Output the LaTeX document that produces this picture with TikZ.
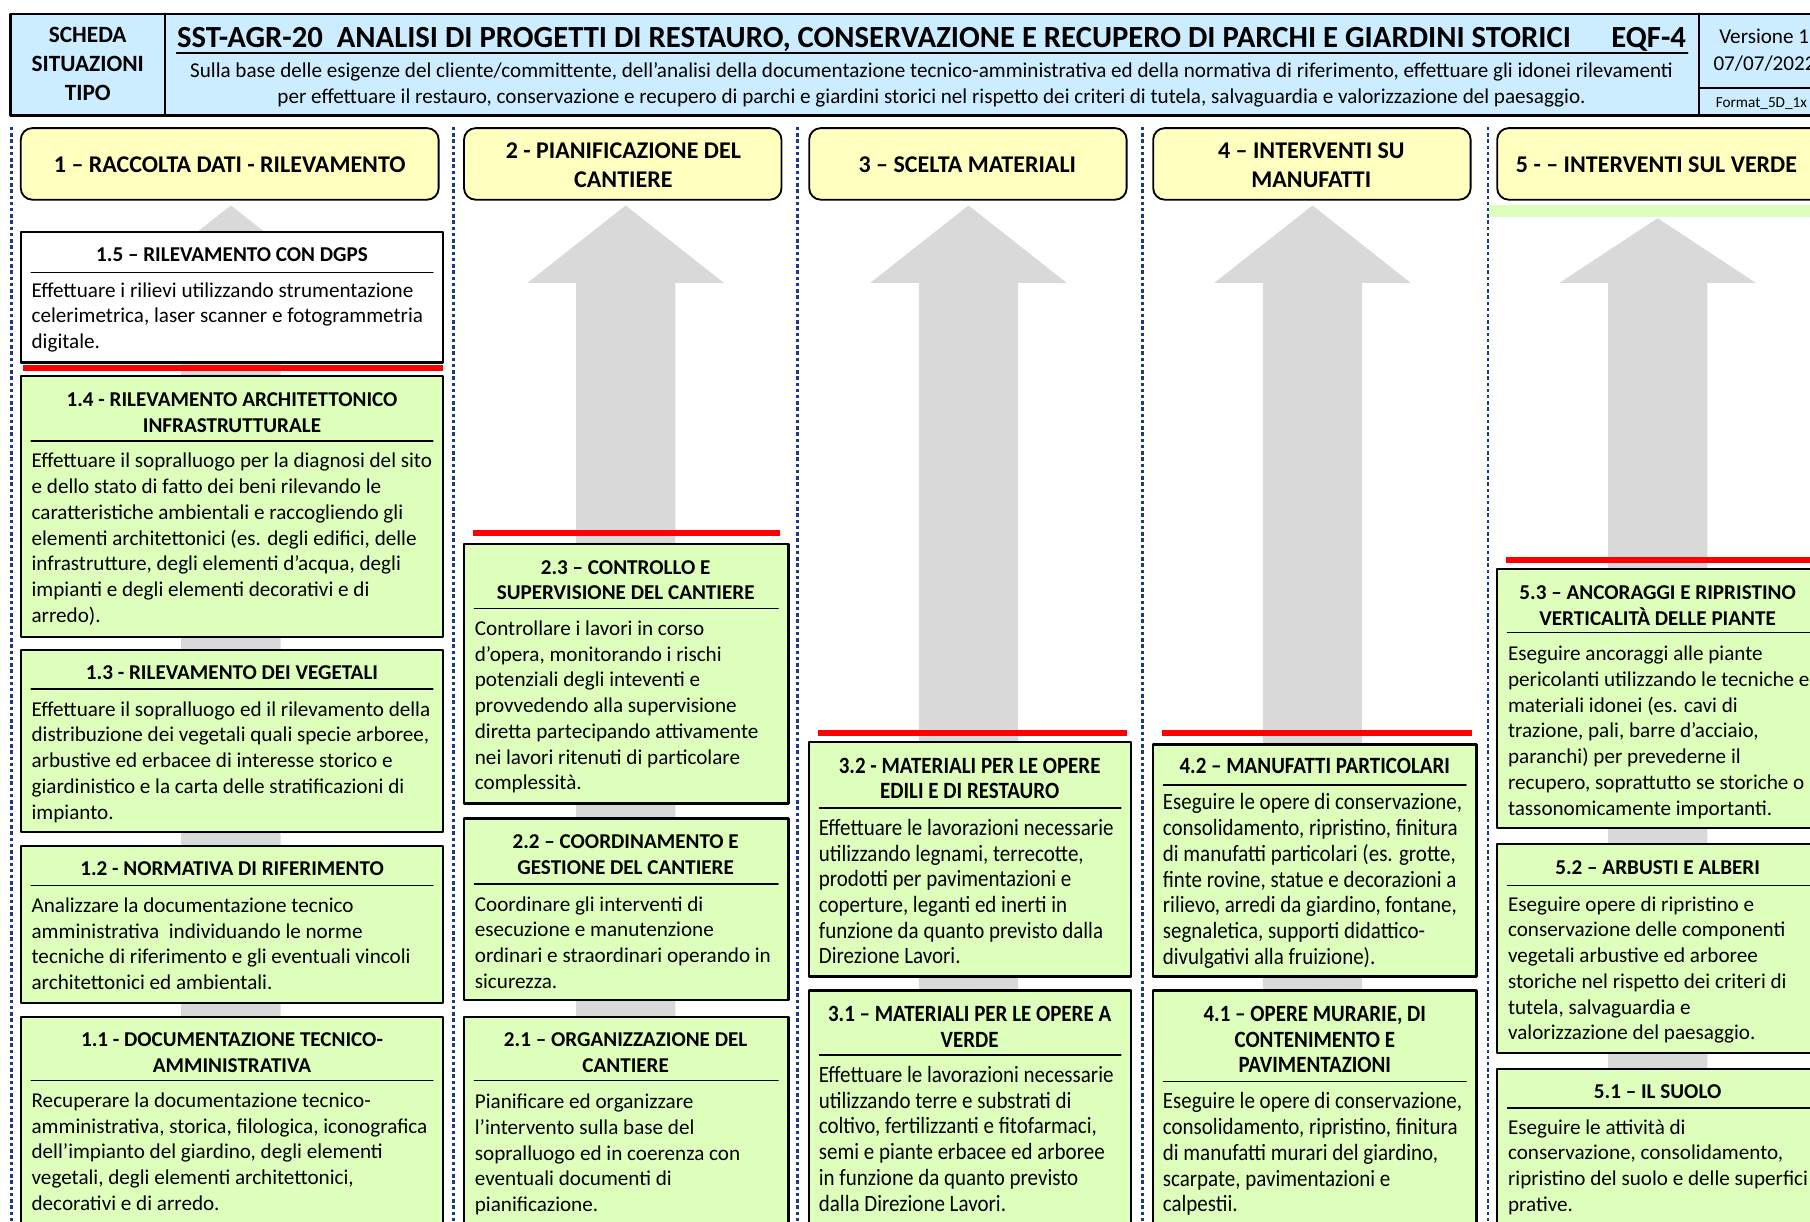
\documentclass[tikz,border=0pt]{standalone}
\usepackage{fontspec}
\setmainfont{Carlito}
\newfontfamily\stretta[FakeStretch=0.9]{Carlito}
\usepackage{tikz}
\definecolor{celeste}{RGB}{204,236,255}
\definecolor{giallo}{RGB}{255,255,192}
\definecolor{verde}{RGB}{221,255,187}
\definecolor{grigio}{RGB}{217,217,217}
\definecolor{rosso}{RGB}{255,0,0}
\definecolor{blu}{RGB}{32,56,140}
\newcommand{\corpo}{\fontsize{9.15}{11.15}\selectfont}
\newcommand{\corpostretto}{\stretta\fontsize{10.1}{11.15}\selectfont}
% righe allineate sulla prima linea di base
\newcommand{\sinistra}[1]{\begin{tabular}[t]{@{}l@{}}#1\end{tabular}}
\newcommand{\centro}[1]{\begin{tabular}[t]{@{}c@{}}#1\end{tabular}}
\tikzset{
  cornice/.style={draw=black,line width=1.pt},
  capo/.style={draw=black,line width=0.8pt,fill=giallo,rounded corners=5pt},
  capotesto/.style={inner sep=0pt,align=center,yshift=-0.5pt,font=\bfseries\fontsize{10.4}{12.5}\selectfont},
  regola/.style={line width=0.7pt},
  striscia/.style={rosso,line width=2.5pt,line cap=butt},
  separatore/.style={blu,line width=1.2pt,dash pattern=on 1.5pt off 1.2pt,line cap=butt},
  freccia/.style={fill=grigio,draw=none},
  testo/.style={anchor=base west,inner sep=0pt,yshift=-1.2pt,font=\corpo},
  titolo/.style={anchor=base,inner sep=0pt,yshift=-0.7pt,font=\bfseries\corpo},
  testoN/.style={anchor=base west,inner sep=0pt,yshift=-1.3pt,font=\corpostretto},
  titoloN/.style={anchor=base,inner sep=0pt,yshift=-0.9pt,font=\corpostretto\bfseries}
}
\begin{document}
\begin{tikzpicture}[line cap=round,line join=round,x=0.5pt,y=-0.5pt]
    \useasboundingbox (0.,0.) rectangle (1568.,1058.);
    \clip (0.,0.) rectangle (1568.,1058.);
    % separatori delle colonne
    \foreach \xs in {10,393,691,990,1289}
      \draw [separatore] (\xs,110.) -- (\xs,1070.);
    % frecce grigie
    \fill [freccia] (157.,1070.) -- (157.,245.) -- (115.,245.) -- (200.,178.) -- (285.,245.) -- (243.,245.) -- (243.,1070.) -- cycle;
    \fill [freccia] (499.,1070.) -- (499.,245.) -- (457.,245.) -- (542.,178.) -- (627.,245.) -- (585.,245.) -- (585.,1070.) -- cycle;
    \fill [freccia] (796.,1070.) -- (796.,245.) -- (754.,245.) -- (839.,178.) -- (924.,245.) -- (882.,245.) -- (882.,1070.) -- cycle;
    \fill [freccia] (1094.,1070.) -- (1094.,245.) -- (1052.,245.) -- (1137.,178.) -- (1222.,245.) -- (1180.,245.) -- (1180.,1070.) -- cycle;
    \fill [freccia] (1393.,1070.) -- (1393.,245.) -- (1351.,245.) -- (1436.,189.) -- (1521.,245.) -- (1479.,245.) -- (1479.,1070.) -- cycle;
    \fill [verde] (1290.,178.) rectangle (1590.,188.);
    % intestazione
    \draw [cornice,fill=celeste] (9.,12.) rectangle (1590.,100.);
    \draw [cornice] (143.,12.) -- (143.,100.);
    \draw [cornice] (1472.,12.) -- (1472.,100.);
    \draw [cornice] (1472.,76.) -- (1590.,76.);
    \draw [regola] (153.,46.) -- (1462.,46.);
    \node [inner sep=0pt,anchor=base,font=\bfseries\fontsize{10.1}{12.5}\selectfont] (scheda) at (76.,37.) {\centro{SCHEDA\\SITUAZIONI\\TIPO}};
    \node [inner sep=0pt,anchor=base west,font=\bfseries\fontsize{13.3}{16}\selectfont] (sst) at (153.,41.) {SST-AGR-20\ \ ANALISI DI PROGETTI DI RESTAURO, CONSERVAZIONE E RECUPERO DI PARCHI E GIARDINI STORICI};
    \node [inner sep=0pt,anchor=base east,font=\bfseries\fontsize{13.3}{16}\selectfont] (eqf) at (1461.,41.) {EQF-4};
    \node [inner sep=0pt,anchor=base,font=\fontsize{9.15}{11.15}\selectfont] (sulla) at (807.,67.) {\centro{Sulla base delle esigenze del cliente/committente, dell’analisi della documentazione tecnico-amministrativa ed della normativa di riferimento, effettuare gli idonei rilevamenti\\per effettuare il restauro, conservazione e recupero di parchi e giardini storici nel rispetto dei criteri di tutela, salvaguardia e valorizzazione del paesaggio.}};
    \node [inner sep=0pt,anchor=base west,font=\corpo] (vers) at (1489.,38.) {Versione 1};
    \node [inner sep=0pt,anchor=base west,font=\corpo] (data) at (1484.,61.) {07/07/2022};
    \node [inner sep=0pt,anchor=base west,font=\fontsize{6.6}{8}\selectfont] (form) at (1486.,93.) {Format\_5D\_1x};
    % intestazioni di colonna
    \draw [capo] (18.,111.) rectangle (380.,173.);
    \draw [capo] (402.,111.) rectangle (677.,173.);
    \draw [capo] (701.,111.) rectangle (976.,173.);
    \draw [capo] (999.,111.) rectangle (1274.,173.);
    \draw [capo] (1297.,111.) rectangle (1600.,173.);
    \node [capotesto] (cap1) at (199.,142.) {1 – RACCOLTA DATI - RILEVAMENTO};
    \node [capotesto] (cap2) at (540.,142.) {2 - PIANIFICAZIONE DEL\\CANTIERE};
    \node [capotesto] (cap3) at (838.,142.) {3 – SCELTA MATERIALI};
    \node [capotesto] (cap4) at (1136.,142.) {4 – INTERVENTI SU\\MANUFATTI};
    \node [capotesto] (cap5) at (1435.,142.) {5 - – INTERVENTI SUL VERDE};
    % linee rosse
    \draw [striscia] (20.,319.) -- (384.,319.);
    \draw [striscia] (410.,462.) -- (676.,462.);
    \draw [striscia] (709.,635.) -- (976.,635.);
    \draw [striscia] (1007.,635.) -- (1275.,635.);
    \draw [striscia] (1305.,485.) -- (1590.,485.);
    % colonna 1
    \draw [cornice,fill=white] (18.,201.) rectangle (384.,314.);
    \node [titolo] (t15) at (201.,225.) {\centro{1.5 – RILEVAMENTO CON DGPS}};
    \draw [regola] (27.,236.) -- (375.,236.);
    \node [testo] (c15) at (27.,255.) {\sinistra{Effettuare i rilievi utilizzando strumentazione\\celerimetrica, laser scanner e fotogrammetria\\digitale.}};
    \draw [cornice,fill=verde] (18.,326.) rectangle (384.,552.);
    \node [titolo] (t14) at (201.,351.) {\centro{1.4 - RILEVAMENTO ARCHITETTONICO\\INFRASTRUTTURALE}};
    \draw [regola] (27.,382.) -- (375.,382.);
    \node [testo] (c14) at (27.,403.) {\sinistra{Effettuare il sopralluogo per la diagnosi del sito\\e dello stato di fatto dei beni rilevando le\\caratteristiche ambientali e raccogliendo gli\\elementi architettonici (es. degli edifici, delle\\infrastrutture, degli elementi d’acqua, degli\\impianti e degli elementi decorativi e di\\arredo).}};
    \draw [cornice,fill=verde] (18.,563.) rectangle (384.,721.);
    \node [titolo] (t13) at (201.,587.) {\centro{1.3 - RILEVAMENTO DEI VEGETALI}};
    \draw [regola] (27.,597.) -- (375.,597.);
    \node [testo] (c13) at (27.,618.) {\sinistra{Effettuare il sopralluogo ed il rilevamento della\\distribuzione dei vegetali quali specie arboree,\\arbustive ed erbacee di interesse storico e\\giardinistico e la carta delle stratificazioni di\\impianto.}};
    \draw [cornice,fill=verde] (18.,733.) rectangle (384.,869.);
    \node [titolo] (t12) at (201.,757.) {\centro{1.2 - NORMATIVA DI RIFERIMENTO}};
    \draw [regola] (27.,767.) -- (375.,767.);
    \node [testo] (c12) at (27.,788.) {\sinistra{Analizzare la documentazione tecnico\\amministrativa\ \ individuando le norme\\tecniche di riferimento e gli eventuali vincoli\\architettonici ed ambientali.}};
    \draw [cornice,fill=verde] (18.,881.) rectangle (384.,1070.);
    \node [titolo] (t11) at (201.,905.) {\centro{1.1 - DOCUMENTAZIONE TECNICO-\\AMMINISTRATIVA}};
    \draw [regola] (27.,936.) -- (375.,936.);
    \node [testo] (c11) at (27.,957.) {\sinistra{Recuperare la documentazione tecnico-\\amministrativa, storica, filologica, iconografica\\dell’impianto del giardino, degli elementi\\vegetali, degli elementi architettonici,\\decorativi e di arredo.}};
    % colonna 2
    \draw [cornice,fill=verde] (402.,471.) rectangle (683.,696.);
    \node [titolo] (t23) at (542.,496.) {\centro{2.3 – CONTROLLO E\\SUPERVISIONE DEL CANTIERE}};
    \draw [regola] (411.,527.) -- (674.,527.);
    \node [testo] (c23) at (411.,548.) {\sinistra{Controllare i lavori in corso\\d’opera, monitorando i rischi\\potenziali degli inteventi e\\provvedendo alla supervisione\\diretta partecipando attivamente\\nei lavori ritenuti di particolare\\complessità.}};
    \draw [cornice,fill=verde] (402.,709.) rectangle (683.,866.);
    \node [titolo] (t22) at (542.,734.) {\centro{2.2 – COORDINAMENTO E\\GESTIONE DEL CANTIERE}};
    \draw [regola] (411.,766.) -- (674.,766.);
    \node [testo] (c22) at (411.,787.) {\sinistra{Coordinare gli interventi di\\esecuzione e manutenzione\\ordinari e straordinari operando in\\sicurezza.}};
    \draw [cornice,fill=verde] (402.,881.) rectangle (683.,1070.);
    \node [titolo] (t21) at (542.,905.) {\centro{2.1 – ORGANIZZAZIONE DEL\\CANTIERE}};
    \draw [regola] (411.,936.) -- (674.,936.);
    \node [testo] (c21) at (411.,958.) {\sinistra{Pianificare ed organizzare\\l’intervento sulla base del\\sopralluogo ed in coerenza con\\eventuali documenti di\\pianificazione.}};
    % colonna 3
    \draw [cornice,fill=verde] (701.,643.) rectangle (980.,846.);
    \node [titoloN] (t32) at (840.,668.) {\centro{3.2 - MATERIALI PER LE OPERE\\EDILI E DI RESTAURO}};
    \draw [regola] (710.,700.) -- (971.,700.);
    \node [testoN] (c32) at (709.,721.) {\sinistra{Effettuare le lavorazioni necessarie\\utilizzando legnami, terrecotte,\\prodotti per pavimentazioni e\\coperture, leganti ed inerti in\\funzione da quanto previsto dalla\\Direzione Lavori.}};
    \draw [cornice,fill=verde] (701.,858.) rectangle (980.,1070.);
    \node [titoloN] (t31) at (840.,883.) {\centro{3.1 – MATERIALI PER LE OPERE A\\VERDE}};
    \draw [regola] (710.,914.) -- (971.,914.);
    \node [testoN] (c31) at (709.,935.) {\sinistra{Effettuare le lavorazioni necessarie\\utilizzando terre e substrati di\\coltivo, fertilizzanti e fitofarmaci,\\semi e piante erbacee ed arboree\\in funzione da quanto previsto\\dalla Direzione Lavori.}};
    % colonna 4
    \draw [cornice,fill=verde] (999.,645.) rectangle (1279.,846.);
    \node [titoloN] (t42) at (1139.,668.) {\centro{4.2 – MANUFATTI PARTICOLARI}};
    \draw [regola] (1008.,680.) -- (1270.,680.);
    \node [testoN] (c42) at (1007.,699.) {\sinistra{Eseguire le opere di conservazione,\\consolidamento, ripristino, finitura\\di manufatti particolari (es. grotte,\\finte rovine, statue e decorazioni a\\rilievo, arredi da giardino, fontane,\\segnaletica, supporti didattico-\\divulgativi alla fruizione).}};
    \draw [cornice,fill=verde] (999.,858.) rectangle (1279.,1070.);
    \node [titoloN] (t41) at (1139.,883.) {\centro{4.1 – OPERE MURARIE, DI\\CONTENIMENTO E\\PAVIMENTAZIONI}};
    \draw [regola] (1008.,937.) -- (1270.,937.);
    \node [testoN] (c41) at (1007.,958.) {\sinistra{Eseguire le opere di conservazione,\\consolidamento, ripristino, finitura\\di manufatti murari del giardino,\\scarpate, pavimentazioni e\\calpestii.}};
    % colonna 5
    \draw [cornice,fill=verde] (1297.,493.) rectangle (1576.,717.);
    \node [titolo] (t53) at (1436.,518.) {\centro{5.3 – ANCORAGGI E RIPRISTINO\\VERTICALITÀ DELLE PIANTE}};
    \draw [regola] (1306.,548.) -- (1590.,548.);
    \node [testo] (c53) at (1306.,570.) {\sinistra{Eseguire ancoraggi alle piante\\pericolanti utilizzando le tecniche e\\materiali idonei (es. cavi di\\trazione, pali, barre d’acciaio,\\paranchi) per prevederne il\\recupero, soprattutto se storiche o\\tassonomicamente importanti.}};
    \draw [cornice,fill=verde] (1297.,731.) rectangle (1576.,912.);
    \node [titolo] (t52) at (1436.,756.) {\centro{5.2 – ARBUSTI E ALBERI}};
    \draw [regola] (1306.,767.) -- (1590.,767.);
    \node [testo] (c52) at (1306.,787.) {\sinistra{Eseguire opere di ripristino e\\conservazione delle componenti\\vegetali arbustive ed arboree\\storiche nel rispetto dei criteri di\\tutela, salvaguardia e\\valorizzazione del paesaggio.}};
    \draw [cornice,fill=verde] (1297.,926.) rectangle (1576.,1070.);
    \node [titolo] (t51) at (1436.,950.) {\centro{5.1 – IL SUOLO}};
    \draw [regola] (1306.,960.) -- (1590.,960.);
    \node [testo] (c51) at (1306.,980.) {\sinistra{Eseguire le attività di\\conservazione, consolidamento,\\ripristino del suolo e delle superfici\\prative.}};
\end{tikzpicture}
\end{document}
